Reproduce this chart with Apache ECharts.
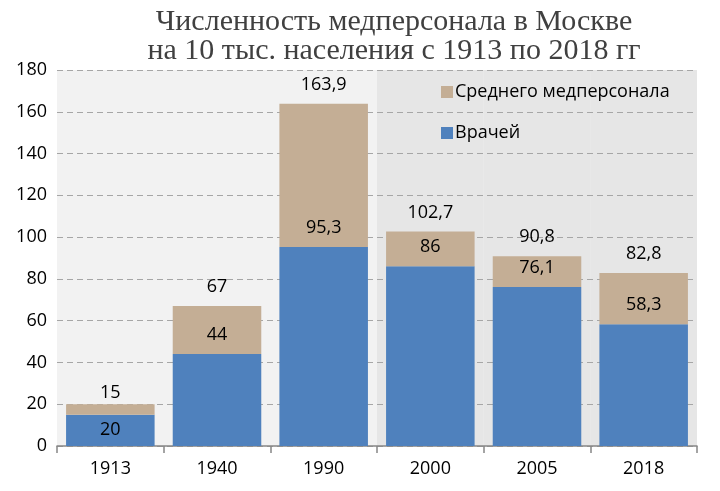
<!DOCTYPE html>
<html><head><meta charset="utf-8">
<script src="https://cdn.jsdelivr.net/npm/echarts@6/dist/echarts.min.js"></script>
<style>html,body{margin:0;padding:0;background:#fff}#c{width:720px;height:491px}</style>
</head><body><div id="c"></div>
<script>
const categories = ['1913','1940','1990','2000','2005','2018'];
const doctors = [15, 44, 95.3, 86, 76.1, 58.3];
const totals = [20, 67, 163.9, 102.7, 90.8, 82.8];
const doctorLabels = ['20','44','95,3','86','76,1','58,3'];
const totalLabels = ['15','67','163,9','102,7','90,8','82,8'];
const shadedCategories = ['2000','2005','2018'];
const yTicks = [0, 20, 40, 60, 80, 100, 120, 140, 160, 180];

const nurses = totals.map((t, i) => +(t - doctors[i]).toFixed(1));
const yMax = yTicks[yTicks.length - 1];
const shade = categories.map(c => shadedCategories.includes(c) ? yMax : null);

const chart = echarts.init(document.getElementById('c'), null, {renderer: 'canvas'});
const lblFont = {fontFamily: 'Open Sans, Liberation Sans, sans-serif', fontSize: 18, color: '#000'};
chart.setOption({
  animation: false,
  title: {
    text: 'Численность медперсонала в Москве\nна 10 тыс. населения с 1913 по 2018 гг',
    left: 389, textAlign: 'center', top: 3,
    textStyle: {fontFamily: 'Liberation Serif, DejaVu Serif, serif', fontWeight: 'normal', fontSize: 30, color: '#404040', lineHeight: 29}
  },
  legend: {
    orient: 'vertical', left: 436, top: 78, itemGap: 23, itemWidth: 12, itemHeight: 12,
    data: ['Среднего медперсонала', 'Врачей'],
    textStyle: {fontFamily: 'Open Sans, Liberation Sans, sans-serif', fontSize: 18, color: '#000', padding: [0,0,0,-3]},
    icon: 'rect'
  },
  grid: {left: 57, right: 23, top: 70, bottom: 45, show: true, backgroundColor: '#f2f2f2', borderWidth: 0},
  xAxis: [{
    type: 'category', data: categories, z: 3,
    axisLine: {lineStyle: {color: '#868686', width: 1.5}},
    axisTick: {show: true, length: 7, alignWithLabel: false, lineStyle: {color: '#868686', width: 1.5}},
    axisLabel: Object.assign({margin: 14}, lblFont)
  }, {
    type: 'category', data: categories, show: false
  }],
  yAxis: {
    type: 'value', min: 0, max: yMax, interval: 20, z: 3,
    axisLine: {show: false}, axisTick: {show: false},
    splitLine: {lineStyle: {color: '#a6a6a6', type: [6, 4], width: 1}},
    axisLabel: Object.assign({margin: 10}, lblFont)
  },
  series: [
    {
      type: 'bar', name: 'bg', xAxisIndex: 1, data: shade, barWidth: '100%', silent: true,
      itemStyle: {color: '#e6e6e6'}, z: 1, legendHoverLink: false
    },
    {
      type: 'bar', name: 'Врачей', stack: 's', data: doctors.map((v, i) => i === 0 ? {value: v, label: {position: 'inside', distance: 0}} : v),
      barCategoryGap: '17%',
      itemStyle: {color: '#4f81bd'}, z: 4,
      label: Object.assign({show: true, position: 'top', distance: 10, formatter: p => doctorLabels[p.dataIndex]}, lblFont)
    },
    {
      type: 'bar', name: 'Среднего медперсонала', stack: 's', data: nurses.map((v, i) => i === 0 ? {value: v, label: {distance: 2}} : v),
      itemStyle: {color: '#c4ae95'}, z: 4,
      label: Object.assign({show: true, position: 'top', distance: 10, formatter: p => totalLabels[p.dataIndex]}, lblFont)
    }
  ]
});
</script></body></html>
